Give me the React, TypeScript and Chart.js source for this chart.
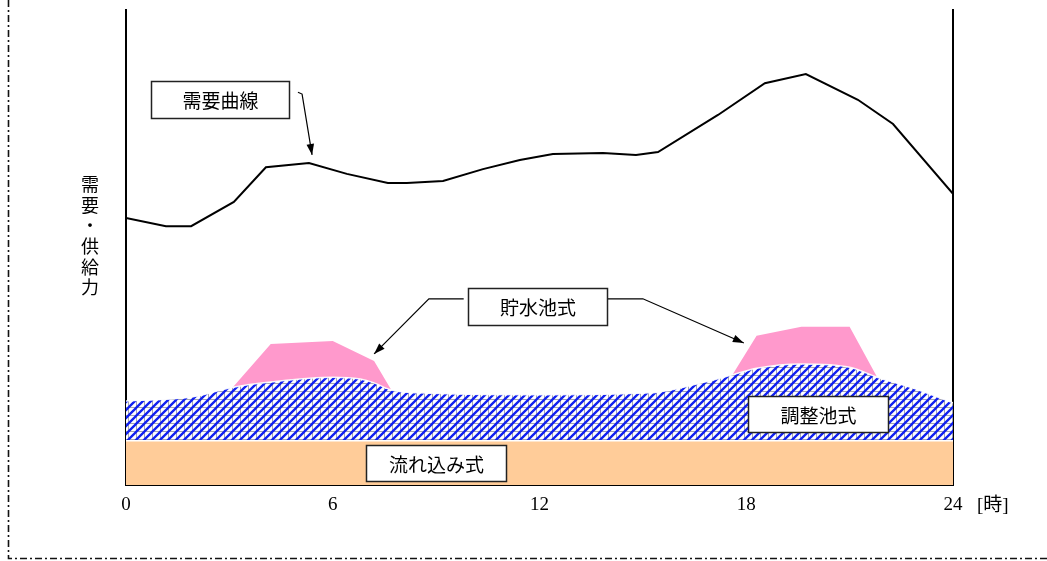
import React, { useEffect, useRef } from "react";
import { Chart, registerables } from "chart.js";

Chart.register(...registerables);

// ---- data (hours 0-24, relative demand/supply units) ----
const xTicks = [0, 6, 12, 18, 24];
const unitLabel = "[時]";
const yTitleChars = ["需", "要", "・", "供", "給", "力"];

const demandHours = [0, 1.16, 1.89, 3.13, 4.06, 5.31, 6.41, 7.6, 8.15, 9.2, 10.36, 11.43, 12.39, 13.84, 14.8, 15.44, 17.18, 18.54, 19.73, 21.24, 22.26, 24];
const demandValues = [56.2, 54.5, 54.5, 59.6, 66.9, 67.8, 65.5, 63.6, 63.6, 64.0, 66.5, 68.4, 69.7, 69.9, 69.5, 70.1, 77.9, 84.6, 86.5, 81.1, 76.0, 61.3];

const runOfRiverHours = [0, 24];
const runOfRiverValues = [9.3, 9.3];

const pondageHours = [0, 1.9, 3.1, 4.2, 6.0, 6.8, 7.2, 7.7, 8.5, 12, 15.2, 16.7, 17.6, 18.3, 19.6, 21.0, 21.8, 23, 24];
const pondageValues = [17.7, 18.5, 20.6, 21.7, 22.7, 22.3, 21.5, 20.0, 19.4, 19.0, 19.4, 21.5, 23.2, 24.6, 25.5, 24.8, 22.7, 20.0, 17.3];

const reservoirAmHours = [3.1, 4.2, 6.0, 7.2, 7.7];
const reservoirAmValues = [20.6, 29.7, 30.3, 26.1, 20.0];
const reservoirPmHours = [17.6, 18.3, 19.6, 21.0, 21.8];
const reservoirPmValues = [23.2, 31.4, 33.3, 33.3, 22.7];

// annotation boxes (data coordinates)
const boxTexts = ["需要曲線", "貯水池式", "調整池式", "流れ込み式"];
const boxX1 = [0.73, 9.93, 18.05, 6.97];
const boxX2 = [4.73, 13.96, 22.11, 11.03];
const boxYTop = [85.05, 41.47, 18.74, 8.42];
const boxYBottom = [77.26, 33.68, 11.16, 0.84];

// arrows (data coordinates, last point is the tip)
const arrowPaths: number[][][] = [
  [[4.99, 82.7], [5.11, 82.3], [5.4, 69.5]],
  [[9.8, 39.2], [8.79, 39.2], [7.2, 27.6]],
  [[13.96, 39.2], [15.0, 39.2], [17.93, 29.9]],
];

const toXY = (xs: number[], ys: number[]) => xs.map((x, i) => ({ x, y: ys[i] }));

function makePattern(): CanvasPattern | string {
  const c = document.createElement("canvas");
  c.width = 8;
  c.height = 8;
  const g = c.getContext("2d");
  if (!g) return "#3344ff";
  g.fillStyle = "#ffffff";
  g.fillRect(0, 0, 8, 8);
  g.fillStyle = "#a4a4b0";
  g.fillRect(0, 7, 8, 1);
  g.fillRect(0, 0, 1, 8);
  g.strokeStyle = "#1020f0";
  g.lineWidth = 2.3;
  g.beginPath();
  g.moveTo(-2, 2);
  g.lineTo(2, -2);
  g.moveTo(-1, 9);
  g.lineTo(9, -1);
  g.moveTo(6, 10);
  g.lineTo(10, 6);
  g.stroke();
  const p = g.createPattern(c, "repeat");
  return p || "#3344ff";
}

const decorPlugin = {
  id: "decor",
  afterDraw(chart: any) {
    const { ctx, chartArea, scales } = chart;
    const xs = scales.x;
    const ys = scales.y;
    ctx.save();

    // outer dash-dot frame (left and bottom visible)
    ctx.strokeStyle = "#111";
    ctx.lineWidth = 1.6;
    ctx.setLineDash([7, 3, 2, 3]);
    ctx.beginPath();
    ctx.moveTo(8.5, 0);
    ctx.lineTo(8.5, 558.5);
    ctx.lineTo(chart.width, 558.5);
    ctx.stroke();
    ctx.setLineDash([]);

    // arrows
    ctx.strokeStyle = "#000";
    ctx.fillStyle = "#000";
    ctx.lineWidth = 1.2;
    for (const path of arrowPaths) {
      const pts = path.map(([h, v]) => [xs.getPixelForValue(h), ys.getPixelForValue(v)]);
      ctx.beginPath();
      ctx.moveTo(pts[0][0], pts[0][1]);
      for (let i = 1; i < pts.length; i++) ctx.lineTo(pts[i][0], pts[i][1]);
      ctx.stroke();
      const [tx, ty] = pts[pts.length - 1];
      const [px, py] = pts[pts.length - 2];
      const a = Math.atan2(ty - py, tx - px);
      const len = 11;
      const w = 3.8;
      ctx.beginPath();
      ctx.moveTo(tx, ty);
      ctx.lineTo(tx - len * Math.cos(a) + w * Math.sin(a), ty - len * Math.sin(a) - w * Math.cos(a));
      ctx.lineTo(tx - len * Math.cos(a) - w * Math.sin(a), ty - len * Math.sin(a) + w * Math.cos(a));
      ctx.closePath();
      ctx.fill();
    }

    // label boxes
    ctx.font = '19px "Noto Sans CJK JP", sans-serif';
    ctx.textAlign = "center";
    ctx.textBaseline = "middle";
    boxTexts.forEach((t, i) => {
      const x1 = Math.round(xs.getPixelForValue(boxX1[i])) + 0.5;
      const x2 = Math.round(xs.getPixelForValue(boxX2[i])) + 0.5;
      const y1 = Math.round(ys.getPixelForValue(boxYTop[i])) + 0.5;
      const y2 = Math.round(ys.getPixelForValue(boxYBottom[i])) + 0.5;
      ctx.fillStyle = "#fff";
      ctx.fillRect(x1, y1, x2 - x1, y2 - y1);
      ctx.strokeStyle = "#222";
      ctx.lineWidth = 1.5;
      ctx.strokeRect(x1, y1, x2 - x1, y2 - y1);
      ctx.fillStyle = "#000";
      ctx.fillText(t, (x1 + x2) / 2, (y1 + y2) / 2 + 1);
    });

    // vertical y-axis title
    ctx.font = '18px "Noto Sans CJK JP", sans-serif';
    ctx.fillStyle = "#000";
    const tx = chartArea.left - 36;
    const ty0 = chartArea.top + 174;
    yTitleChars.forEach((ch, i) => {
      ctx.fillText(ch, tx, ty0 + i * 20.7);
    });

    // unit label next to 24
    ctx.font = '19px "Liberation Serif", "Noto Sans CJK JP", serif';
    ctx.textAlign = "left";
    ctx.fillText(unitLabel, xs.getPixelForValue(24) + 24, chartArea.bottom + 21);

    ctx.restore();
  },
};

export default function App() {
  const ref = useRef<HTMLCanvasElement | null>(null);

  useEffect(() => {
    const canvas = ref.current;
    if (!canvas) return;
    const pattern = makePattern();
    const chart = new Chart(canvas, {
      type: "line",
      data: {
        datasets: [
          {
            label: "需要曲線",
            data: toXY(demandHours, demandValues),
            borderColor: "#000",
            borderWidth: 2,
            pointRadius: 0,
            fill: false,
            tension: 0,
          },
          {
            label: "流れ込み式",
            data: toXY(runOfRiverHours, runOfRiverValues),
            borderColor: "#ffffff",
            borderWidth: 1.5,
            backgroundColor: "#FFCC99",
            pointRadius: 0,
            fill: "origin",
          },
          {
            label: "調整池式",
            data: toXY(pondageHours, pondageValues),
            borderColor: "rgba(255,255,255,0.9)",
            borderWidth: 1.5,
            backgroundColor: pattern as any,
            pointRadius: 0,
            fill: 1,
            cubicInterpolationMode: "monotone",
          },
          {
            label: "貯水池式",
            data: toXY(reservoirAmHours, reservoirAmValues),
            borderWidth: 0,
            borderColor: "rgba(0,0,0,0)",
            backgroundColor: "#FF99CC",
            pointRadius: 0,
            fill: 2,
          },
          {
            label: "貯水池式2",
            data: toXY(reservoirPmHours, reservoirPmValues),
            borderWidth: 0,
            borderColor: "rgba(0,0,0,0)",
            backgroundColor: "#FF99CC",
            pointRadius: 0,
            fill: 2,
          },
        ],
      },
      options: {
        responsive: false,
        animation: false,
        events: [],
        layout: { padding: { left: 126, right: 94, top: 10, bottom: 36 } },
        plugins: {
          legend: { display: false },
          tooltip: { enabled: false },
          title: { display: false },
        },
        scales: {
          x: {
            type: "linear",
            min: 0,
            max: 24,
            afterFit: (s: any) => {
              s.height = 40;
            },
            afterBuildTicks: (s: any) => {
              s.ticks = xTicks.map((v) => ({ value: v }));
            },
            ticks: {
              padding: 9,
              color: "#000",
              font: { family: '"Liberation Serif", serif', size: 19 },
              maxRotation: 0,
            },
            grid: { display: false, drawTicks: false },
            border: { display: true, color: "#000", width: 2 },
          },
          y: {
            min: 0,
            max: 100,
            position: "left",
            afterFit: (s: any) => {
              s.width = 0;
            },
            ticks: { display: false },
            grid: { display: false, drawTicks: false },
            border: { display: true, color: "#000", width: 2 },
          },
          y2: {
            display: true,
            min: 0,
            max: 100,
            position: "right",
            afterFit: (s: any) => {
              s.width = 0;
            },
            ticks: { display: false },
            grid: { display: false, drawTicks: false },
            border: { display: true, color: "#000", width: 2 },
          },
        },
      },
      plugins: [decorPlugin],
    });
    return () => chart.destroy();
  }, []);

  return (
    <div style={{ position: "fixed", left: 0, top: 0, width: 1047, height: 561, background: "#fff" }}>
      <canvas ref={ref} width={1047} height={561} style={{ width: 1047, height: 561, display: "block" }} />
    </div>
  );
}
